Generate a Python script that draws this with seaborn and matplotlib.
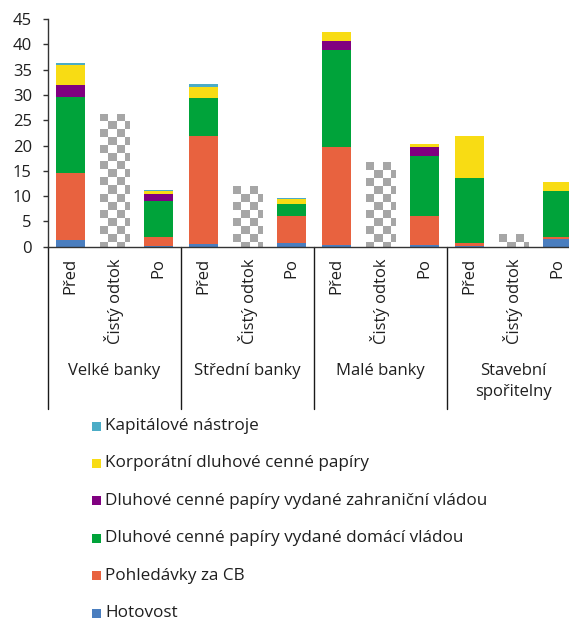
import numpy as np
import pandas as pd
import matplotlib
matplotlib.use("Agg")
import matplotlib.pyplot as plt
from matplotlib.colors import ListedColormap
from matplotlib.patches import Rectangle
from matplotlib.lines import Line2D
import seaborn as sns

# ---- data -------------------------------------------------------------
groups = ["Velké banky", "Střední banky", "Malé banky", "Stavební\nspořitelny"]
phases = ["Před", "Čistý odtok", "Po"]

# stacked bars: (Před, Po) for each group, in group order
stack_pos = [0, 2, 3, 5, 6, 8, 9, 11]
hotovost = [1.3, 0.1, 0.6, 0.8, 0.35, 0.25, 0.1, 1.5]
pohledavky = [13.3, 1.75, 21.2, 5.35, 19.45, 5.85, 0.6, 0.35]
domaci = [15.0, 7.2, 7.5, 2.25, 19.0, 11.8, 12.9, 9.25]
zahranicni = [2.4, 1.35, 0.1, 0.05, 1.9, 1.75, 0.0, 0.0]
korporatni = [4.0, 0.7, 2.1, 1.05, 1.7, 0.65, 8.3, 1.7]
kapitalove = [0.25, 0.1, 0.6, 0.2, 0.05, 0.05, 0.0, 0.0]

# net outflow bars
odtok_pos = [1, 4, 7, 10]
odtok = [26.3, 12.0, 16.75, 2.45]

series_names = ["Hotovost", "Pohledávky za CB",
                "Dluhové cenné papíry vydané domácí vládou",
                "Dluhové cenné papíry vydané zahraniční vládou",
                "Korporátní dluhové cenné papíry", "Kapitálové nástroje"]
series_values = [hotovost, pohledavky, domaci, zahranicni, korporatni, kapitalove]
series_colors = ["#4A7EBF", "#E8623F", "#00A33A", "#800080", "#F8DC14", "#4BACC6"]

yticks = list(range(0, 50, 5))

# ---- figure -----------------------------------------------------------
sns.set_theme(style="white")
plt.rcParams["font.family"] = ["Open Sans", "DejaVu Sans"]
TXT = "#1f1f1f"

W, H = 569, 623
AX_B, AX_H = 246.7, 227.7
fig = plt.figure(figsize=(W / 100, H / 100), dpi=100)
ax = fig.add_axes([48 / W, (H - AX_B) / H, 532 / W, AX_H / H])

order = list(range(12))
bar_w = 0.655

# stacked bars: draw cumulative totals from the top layer down
cum = np.cumsum(np.array(series_values), axis=0)
for i in range(len(series_values) - 1, -1, -1):
    df = pd.DataFrame({"pos": stack_pos, "val": cum[i]})
    sns.barplot(data=df, x="pos", y="val", order=order, color=series_colors[i],
                saturation=1, width=bar_w, errorbar=None, ax=ax,
                linewidth=0)

# net outflow bars filled with a grey checkerboard
n_before = len(ax.patches)
sns.barplot(data=pd.DataFrame({"pos": odtok_pos, "val": odtok}), x="pos", y="val",
            order=order, color="white", saturation=1, width=bar_w,
            errorbar=None, ax=ax, linewidth=0)
out_bars = ax.patches[n_before:]

ax.set_xlim(-0.5, 11.5)
ax.set_ylim(0, 45)

cell_x = 8 / (532 / 12)
cell_y = 8 / (AX_H / 45)
checker_cmap = ListedColormap(["#A6A6A6", "white"])
for p in out_bars:
    x0, w, h = p.get_x(), p.get_width(), p.get_height()
    if not np.isfinite(h) or h <= 0:
        continue
    nc = int(np.ceil(w / cell_x))
    nr = int(np.ceil(h / cell_y))
    img = (np.add.outer(np.arange(nr), np.arange(nc)) % 2).astype(float)
    im = ax.imshow(img, cmap=checker_cmap, interpolation="nearest", aspect="auto",
                   extent=[x0, x0 + nc * cell_x, h - nr * cell_y, h],
                   origin="upper", vmin=0, vmax=1, zorder=p.get_zorder())
    im.set_clip_path(p)

ax.set_xlim(-0.5, 11.5)
ax.set_ylim(0, 45)
ax.set_aspect("auto")

# axes styling
for s in ["top", "right"]:
    ax.spines[s].set_visible(False)
for s in ["left", "bottom"]:
    ax.spines[s].set_color("#333333")
    ax.spines[s].set_linewidth(1.0)
ax.set_yticks(yticks)
ax.set_yticklabels([str(t) for t in yticks])
ax.tick_params(axis="y", direction="out", length=3.6, width=1.0, color="#333333",
               pad=8, labelsize=12, labelcolor=TXT, left=True)
ax.set_xticks([])
ax.set_xlabel("")
ax.set_ylabel("")

# category labels below the axis
trans = ax.get_xaxis_transform()
for g in range(len(groups)):
    for k, ph in enumerate(phases):
        ax.text(g * 3 + k, (AX_B - 258) / AX_H, ph, rotation=90, ha="center",
                va="top", fontsize=12, color=TXT, transform=trans)
    ax.text(g * 3 + 1, (AX_B - 363) / AX_H, groups[g], ha="center", va="top",
            fontsize=12, color=TXT, linespacing=1.4, transform=trans)

# group dividers
for xd in [-0.5, 2.5, 5.5, 8.5]:
    ax.add_line(Line2D([xd, xd], [0, (AX_B - 409) / AX_H], color="#1a1a1a",
                       lw=1.0, transform=trans, clip_on=False))

# legend, top entry first
for j, i in enumerate(range(len(series_names) - 1, -1, -1)):
    yc = 426 + 37.4 * j
    fig.patches.append(Rectangle((91.7 / W, 1 - (yc + 4.6) / H), 9 / W, 9 / H,
                                 transform=fig.transFigure, facecolor=series_colors[i],
                                 edgecolor="none"))
    fig.text(105 / W, 1 - yc / H, series_names[i], ha="left", va="center",
             fontsize=12.3, color=TXT)

fig.savefig("out.png", dpi=100)
